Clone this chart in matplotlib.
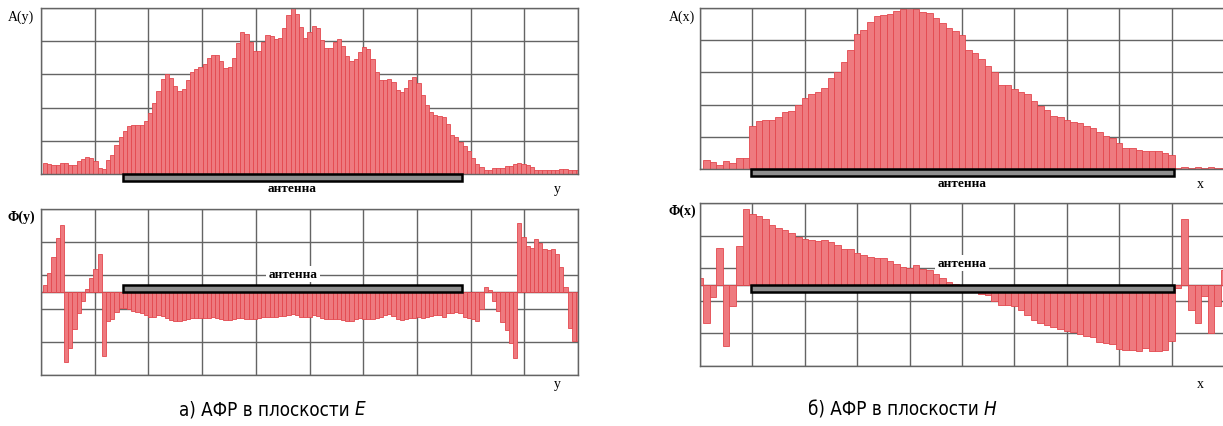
import matplotlib
matplotlib.use('Agg')
import matplotlib.pyplot as plt
from matplotlib.patches import Rectangle
from matplotlib.transforms import blended_transform_factory
import numpy as np

# amplitude / phase samples, E plane (129 samples, first and last half-visible)
amp_e = [0,
         0.32, 0.31, 0.28, 0.28, 0.32, 0.32, 0.28, 0.28,
         0.38, 0.46, 0.50, 0.47, 0.38, 0.18, 0.14,
         0.42, 0.58, 0.87, 1.12, 1.31, 1.46, 1.48, 1.48, 1.48,
         1.59, 1.83, 2.13, 2.50, 2.85, 3.01, 2.89, 2.65, 2.51, 2.57, 2.82,
         3.08, 3.16, 3.21, 3.31, 3.48, 3.58, 3.58, 3.39, 3.19, 3.21, 3.48,
         3.96, 4.27, 4.23, 3.97, 3.71, 3.71, 3.99, 4.19, 4.15, 4.07, 4.09,
         4.40, 4.80, 5.00, 4.82,
         4.42, 4.09, 4.29, 4.45, 4.39, 4.05, 3.79, 3.81, 3.99, 4.07, 3.86,
         3.54, 3.39, 3.46, 3.66, 3.82, 3.76, 3.45, 3.06, 2.83, 2.83, 2.86,
         2.76, 2.54, 2.46, 2.60, 2.83, 2.91, 2.73, 2.38, 2.08, 1.86, 1.79,
         1.76, 1.73, 1.51, 1.18, 1.12, 0.97, 0.85, 0.68, 0.48, 0.31, 0.20,
         0.11, 0.11, 0.18, 0.18, 0.18, 0.23, 0.25, 0.31, 0.32, 0.31, 0.27,
         0.22, 0.12, 0.12, 0.12, 0.11, 0.11, 0.11, 0.14, 0.14, 0.12, 0.11, 0.11]

phase_e = [0,
           0.21, 0.56, 1.05, 1.64, 2.02,
           -2.10, -1.68, -1.10, -0.62, -0.27,
           0.08, 0.41, 0.70, 1.13,
           -1.93,
           -0.87, -0.82, -0.59, -0.49, -0.47,
           -0.52, -0.56, -0.59, -0.64, -0.69, -0.75, -0.74, -0.70, -0.72, -0.78,
           -0.85, -0.87, -0.87, -0.83, -0.80, -0.78, -0.77, -0.79, -0.79, -0.77,
           -0.75, -0.77, -0.80, -0.85, -0.83, -0.80, -0.77, -0.79, -0.82, -0.82,
           -0.80, -0.77, -0.74, -0.74, -0.75, -0.75, -0.73, -0.72, -0.69, -0.65,
           -0.69, -0.75, -0.75, -0.75,
           -0.69, -0.72, -0.77, -0.80, -0.80, -0.80, -0.82, -0.85, -0.87, -0.87,
           -0.82, -0.79, -0.80, -0.80, -0.80,
           -0.79, -0.75, -0.70, -0.67, -0.72, -0.80, -0.84, -0.80, -0.77, -0.77,
           -0.75, -0.77, -0.75, -0.72, -0.70, -0.70, -0.75, -0.64, -0.62, -0.60,
           -0.64, -0.75, -0.79, -0.82, -0.87,
           -0.50, 0.15, 0.05,
           -0.27, -0.57, -0.89, -1.15, -1.53, -1.98,
           2.09, 1.66, 1.39, 1.34, 1.59, 1.49, 1.29, 1.26, 1.29, 1.13, 0.75, 0.15,
           -1.07, -1.48, -1.48]

# H plane (81 samples)
amp_h = [0,
         0.28, 0.21, 0.12, 0.24, 0.18, 0.34, 0.34,
         1.33, 1.48, 1.52, 1.53, 1.60, 1.78, 1.79, 1.99, 2.20, 2.33,
         2.38, 2.52, 2.83, 3.02, 3.33, 3.71, 4.19, 4.31, 4.55, 4.76,
         4.79, 4.82, 4.90, 4.98, 5.00, 4.97, 4.89, 4.83, 4.69, 4.52,
         4.38, 4.28, 4.16, 3.71, 3.60, 3.42, 3.19, 3.00, 2.61, 2.61,
         2.48, 2.40, 2.33, 2.12, 1.95, 1.83, 1.64, 1.60, 1.53, 1.45,
         1.43, 1.35, 1.26, 1.14, 1.04, 0.95, 0.81, 0.65, 0.65, 0.60,
         0.55, 0.57, 0.57, 0.49, 0.43,
         0.02, 0.05, 0.02, 0.05, 0.02, 0.05, 0.02, 0.02]

phase_h = [0.20,
           -1.18, -0.38, 1.13, -1.90, -0.67, 1.18, 2.32,
           2.15, 2.09, 2.00, 1.82, 1.72, 1.67, 1.57, 1.47, 1.39, 1.37,
           1.33, 1.36, 1.31, 1.20, 1.10, 1.10, 0.98, 0.90, 0.85, 0.80,
           0.80, 0.72, 0.64, 0.54, 0.51, 0.59, 0.49, 0.46, 0.33, 0.21,
           0.07, 0.03, -0.05, -0.15,
           -0.24, -0.28, -0.33, -0.51, -0.62, -0.64, -0.67, -0.79, -0.94, -1.08,
           -1.18, -1.23, -1.31, -1.37, -1.42, -1.47, -1.52, -1.59, -1.62, -1.75,
           -1.78, -1.83, -1.97, -2.00, -2.00, -2.03, -1.95, -2.03, -2.03, -2.00,
           -1.72,
           -0.10, 2.00, -0.77, -1.18, -0.34, -1.49, -0.65, 0.43]

ANT_E = (19.6, 100.4)   # antenna extent in sample units
ANT_H = (7.8, 72.4)

FILL = '#ee7a7f'
EDGE = '#e3484e'
GRID = '#646464'
SERIF = 'Liberation Serif'

W, H = 1223, 427
fig = plt.figure(figsize=(W / 100, H / 100), dpi=100)


def box(x0, y0, x1, y1):
    return [x0 / W, 1 - y1 / H, (x1 - x0) / W, (y1 - y0) / H]


def panel(rect, vals, ylim, yticks):
    ax = fig.add_axes(rect)
    n = len(vals) - 1
    ax.bar(np.arange(len(vals)), vals, width=1.0, color=FILL,
           edgecolor=EDGE, linewidth=0.6, zorder=2)
    ax.set_xlim(0, n)
    ax.set_ylim(*ylim)
    ax.set_xticks(np.linspace(0, n, 11))
    ax.set_yticks(yticks)
    ax.grid(True, color=GRID, lw=1.0)
    ax.set_axisbelow(True)
    ax.tick_params(length=0, labelbottom=False, labelleft=False)
    for s in ax.spines.values():
        s.set_color(GRID)
        s.set_linewidth(1.0)
    return ax


def antenna(ax, ext, y0, h, axes_y=True):
    tr = blended_transform_factory(ax.transData, ax.transAxes) if axes_y else ax.transData
    ax.add_patch(Rectangle((ext[0], y0), ext[1] - ext[0], h, transform=tr,
                           facecolor='#8f8f8f', edgecolor='black', lw=1.8,
                           zorder=4, clip_on=False))


def ftext(x, y, s, **kw):
    return fig.text(x / W, 1 - y / H, s, ha='center', va='center', **kw)


ax1 = panel(box(41, 9, 578, 175), amp_e, (0, 5), range(6))
antenna(ax1, ANT_E, -0.042, 0.042)
ax2 = panel(box(41, 210, 578, 376), phase_e, (-2.5, 2.5), np.arange(-2.5, 3, 1))
ax2.axhline(0, color='#333333', lw=1.0, zorder=1)
antenna(ax2, ANT_E, 0.0, 0.22, axes_y=False)

ax3 = panel(box(700, 9, 1224, 170), amp_h, (0, 5), range(6))
antenna(ax3, ANT_H, -0.043, 0.043)
ax4 = panel(box(700, 204, 1224, 367), phase_h, (-2.5, 2.5), np.arange(-2.5, 3, 1))
ax4.axhline(0, color='#333333', lw=1.0, zorder=1)
antenna(ax4, ANT_H, -0.22, 0.22, axes_y=False)

# axis names
ftext(21, 17, 'A(y)', family=SERIF, fontsize=10)
ftext(21, 217, 'Φ(y)', family=SERIF, fontsize=10, weight='bold')
ftext(682, 17, 'A(x)', family=SERIF, fontsize=10)
ftext(682, 211, 'Φ(x)', family=SERIF, fontsize=10, weight='bold')
ftext(557, 189, 'y', family=SERIF, fontsize=10)
ftext(557, 385, 'y', family=SERIF, fontsize=10)
ftext(1200, 185, 'x', family=SERIF, fontsize=10)
ftext(1200, 385, 'x', family=SERIF, fontsize=10)

# antenna labels
ant_kw = dict(family=SERIF, fontsize=9.5, weight='bold')
ftext(292, 189, 'антенна', **ant_kw)
ftext(293, 275, 'антенна', bbox=dict(fc='white', ec='none', pad=1.5), zorder=5, **ant_kw)
ftext(962, 184, 'антенна', **ant_kw)
ftext(962, 264, 'антенна', bbox=dict(fc='white', ec='none', pad=1.5), zorder=5, **ant_kw)

# captions: plain part followed by italic plane letter
cap_kw = dict(family='DejaVu Sans', fontstretch='condensed', fontsize=13.5, va='center')
for x_end, main, letter in [(355, 'а) АФР в плоскости ', 'E'),
                            (984, 'б) АФР в плоскости ', 'H')]:
    fig.text(x_end / W, 1 - 410 / H, main, ha='right', **cap_kw)
    fig.text(x_end / W, 1 - 410 / H, letter, ha='left', style='italic', **cap_kw)

fig.savefig('out.png', dpi=100)
